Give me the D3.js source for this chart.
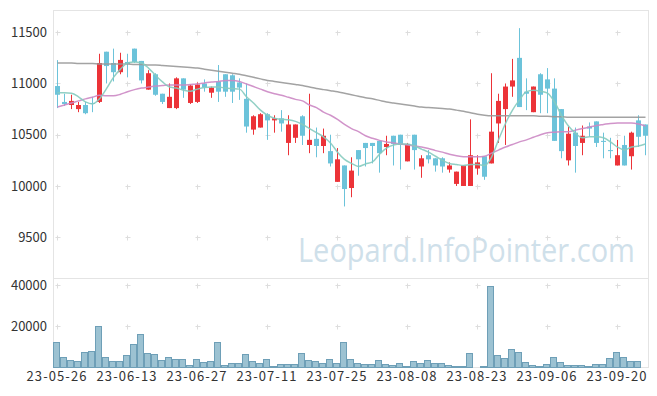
<!DOCTYPE html>
<html>
<head>
<meta charset="utf-8">
<script src="https://cdn.jsdelivr.net/npm/d3@7"></script>
<style>
  body { margin: 0; background: #fff; }
  text { font-family: "Noto Sans CJK KR", "Noto Sans", sans-serif; }
</style>
</head>
<body>
<svg id="chart" width="657" height="396"></svg>
<script>
// x axis labels, one every 10 trading days
const tickLabels = ['23-05-26', '23-06-13', '23-06-27', '23-07-11', '23-07-25',
                    '23-08-08', '23-08-23', '23-09-06', '23-09-20'];

const opens = [10975, 10820, 10790, 10750, 10790, 10810, 10820, 11310, 11200, 11110,
               11210, 11340, 11220, 10940, 11090, 10900, 10760, 10760, 11050, 10810,
               10820, 11000, 10910, 11020, 11090, 11080, 11010, 10850, 10550, 10570,
               10700, 10640, 10660, 10420, 10470, 10680, 10400, 10460, 10390, 10340,
               10040, 10200, 9980, 10350, 10420, 10420, 10440, 10380, 10490, 10500,
               10240, 10500, 10190, 10300, 10270, 10270, 10160, 10020, 10000, 10000,
               10170, 10290, 10220, 10610, 10750, 10970, 11250, 10920, 10720, 11090,
               11040, 10950, 10750, 10250, 10520, 10420, 10580, 10630, 10440, 10350,
               10200, 10400, 10290, 10640, 10600];
const highs = [11228, 10900, 10890, 10820, 10820, 10870, 11290, 11310, 11340, 11300,
               11290, 11340, 11220, 11130, 11100, 10900, 11000, 11060, 11050, 10990,
               11010, 11040, 10970, 11180, 11090, 11090, 11050, 11000, 10690, 10710,
               10710, 10690, 10740, 10690, 10600, 10690, 10900, 10570, 10560, 10500,
               10370, 10200, 10280, 10350, 10420, 10420, 10440, 10490, 10490, 10500,
               10420, 10500, 10300, 10350, 10270, 10280, 10230, 10140, 10200, 10650,
               10300, 10290, 11100, 10900, 11000, 11240, 11540, 11050, 10970, 11100,
               11150, 11050, 10750, 10580, 10570, 10590, 10620, 10630, 10520, 10470,
               10450, 10490, 10530, 10690, 10600];
const lows = [10760, 10780, 10750, 10720, 10700, 10720, 10810, 11000, 11020, 11090,
              11060, 11200, 11000, 10940, 10880, 10800, 10760, 10750, 10860, 10800,
              10810, 10920, 10860, 10820, 10870, 10810, 10840, 10520, 10500, 10570,
              10450, 10520, 10530, 10300, 10420, 10400, 10320, 10280, 10320, 10190,
              10040, 9800, 9890, 10100, 10190, 10220, 10130, 10300, 10200, 10160,
              10240, 10160, 10080, 10220, 10140, 10130, 10130, 10000, 10000, 10000,
              10110, 10060, 10220, 10420, 10400, 10870, 10770, 10740, 10720, 10710,
              10710, 10440, 10270, 10200, 10130, 10300, 10480, 10380, 10270, 10270,
              10200, 10200, 10160, 10380, 10300];
const closes = [10890, 10800, 10830, 10790, 10710, 10800, 11200, 11170, 11110, 11230,
                11190, 11210, 11030, 11100, 10890, 10820, 10870, 11050, 10940, 10980,
                10990, 10960, 10960, 10920, 10920, 10920, 10960, 10580, 10680, 10700,
                10640, 10660, 10610, 10600, 10600, 10490, 10450, 10390, 10490, 10220,
                10260, 9970, 10150, 10260, 10370, 10390, 10320, 10410, 10410, 10400,
                10410, 10350, 10270, 10260, 10200, 10190, 10200, 10140, 10200, 10300,
                10230, 10090, 10530, 10830, 10970, 11030, 10770, 10900, 10970, 10890,
                10950, 10440, 10340, 10510, 10390, 10490, 10560, 10420, 10430, 10340,
                10300, 10200, 10520, 10480, 10490];
const volumes = [12200, 5000, 3400, 2900, 7300, 7800, 19900, 4900, 2900, 2900,
                 5800, 11200, 16200, 6800, 6300, 3400, 4900, 3900, 3900, 1000,
                 3900, 2400, 2900, 12200, 1000, 1900, 1900, 6300, 2900, 1900,
                 3900, 500, 1500, 1500, 1500, 6800, 3400, 2900, 1900, 3900,
                 1900, 12200, 3900, 1900, 1500, 1500, 3400, 1500, 1000, 1900,
                 500, 2900, 1900, 3400, 1900, 1900, 1000, 500, 500, 6800,
                 0, 500, 39500, 6000, 4400, 8700, 7300, 2400, 1000, 500,
                 1500, 4900, 2400, 1000, 1000, 1000, 500, 1500, 1500, 4400,
                 7300, 4900, 2900, 2900, 0];

// moving averages
const ma5 = [10910, 10910, 10905, 10870, 10820, 10800, 10850, 10950, 11060, 11140,
             11200, 11210, 11200, 11150, 11080, 11015, 10965, 10955, 10935, 10925,
             10945, 10960, 10965, 10965, 10955, 10950, 10945, 10870, 10810, 10740,
             10690, 10660, 10650, 10645, 10630, 10600, 10560, 10520, 10480, 10420,
             10330, 10260, 10220, 10190, 10215, 10235, 10310, 10370, 10400, 10410,
             10410, 10390, 10360, 10330, 10290, 10250, 10220, 10210, 10200, 10210,
             10210, 10200, 10280, 10450, 10610, 10740, 10840, 10920, 10935, 10925,
             10905, 10820, 10690, 10585, 10515, 10470, 10480, 10480, 10470, 10430,
             10380, 10350, 10380, 10390, 10410];
const ma20 = [10770, 10790, 10810, 10830, 10850, 10865, 10885, 10880, 10880, 10895,
              10920, 10940, 10955, 10965, 10975, 10980, 10985, 10985, 10985, 10990,
              10995, 11005, 11015, 11020, 11030, 11030, 11020, 10995, 10970, 10945,
              10920, 10900, 10885, 10865, 10845, 10830, 10790, 10765, 10720, 10690,
              10650, 10600, 10560, 10530, 10490, 10465, 10445, 10430, 10420, 10410,
              10400, 10390, 10380, 10365, 10345, 10330, 10310, 10295, 10285, 10285,
              10285, 10290, 10320, 10350, 10380, 10405, 10430, 10450, 10475, 10500,
              10520, 10525, 10530, 10530, 10545, 10560, 10575, 10590, 10600, 10610,
              10615, 10615, 10615, 10605, 10585];
const ma60 = [11200, 11200, 11200, 11195, 11195, 11195, 11190, 11190, 11190, 11190,
              11190, 11185, 11185, 11180, 11180, 11175, 11170, 11165, 11160, 11155,
              11150, 11140, 11130, 11120, 11110, 11100, 11090, 11075, 11060, 11045,
              11030, 11020, 11010, 11000, 10990, 10980, 10965, 10950, 10940, 10930,
              10920, 10905, 10890, 10875, 10860, 10850, 10835, 10820, 10810, 10800,
              10790, 10780, 10770, 10765, 10760, 10755, 10750, 10740, 10730, 10715,
              10700, 10690, 10685, 10685, 10685, 10685, 10685, 10685, 10685, 10680,
              10680, 10675, 10675, 10670, 10670, 10670, 10670, 10670, 10670, 10670,
              10670, 10670, 10670, 10670, 10670];

const priceTicks = [9500, 10000, 10500, 11000, 11500];
const volTicks = [20000, 40000];

const svg = d3.select('#chart');
const padL = 53, padR = 648, padT = 10, paneSplit = 278, padB = 367;

const idx = d3.range(opens.length);
const x = d3.scaleBand().domain(idx).range([padL, padR]);
const yP = d3.scaleLinear().domain([9102, 11717]).range([paneSplit, padT]);
const yV = d3.scaleLinear().domain([0, 43400]).range([padB, paneSplit]);
const cx = i => Math.round(x(i) + x.bandwidth() / 2) + 0.5;

const upColor = '#ec3338', downColor = '#6cc3da';

// watermark (squeezed horizontally to the original's narrow face)
svg.append('text')
  .attr('transform', 'translate(298,262) scale(0.878,1)')
  .style('font-family', '"Open Sans", "Noto Sans", sans-serif')
  .style('font-size', '33px')
  .attr('fill', '#cfe0ea')
  .text('Leopard.InfoPointer.com');

// frame
const frame = svg.append('g').attr('stroke', '#e4e4e4').attr('fill', 'none');
frame.append('rect').attr('x', padL + 0.5).attr('y', padT + 0.5)
  .attr('width', padR - padL).attr('height', padB - padT);
frame.append('line').attr('x1', padL).attr('x2', padR)
  .attr('y1', paneSplit + 0.5).attr('y2', paneSplit + 0.5);

// grid crosses
const xTickIdx = d3.range(0, opens.length, 10);
const crossYs = priceTicks.map(yP).concat(volTicks.map(yV));
const cross = svg.append('g').attr('stroke', '#dddddd');
xTickIdx.forEach(i => {
  crossYs.forEach(yy => {
    const px = cx(i), py = Math.round(yy) + 0.5;
    cross.append('line').attr('x1', px - 2).attr('x2', px + 3).attr('y1', py).attr('y2', py);
    cross.append('line').attr('x1', px).attr('x2', px).attr('y1', py - 2).attr('y2', py + 3);
  });
});

// volume bars
svg.append('g').selectAll('rect')
  .data(idx.filter(i => volumes[i] > 0))
  .join('rect')
  .attr('x', i => Math.round(x(i)) + 0.5)
  .attr('y', i => Math.round(yV(volumes[i])) + 0.5)
  .attr('width', Math.round(x.bandwidth()) - 1)
  .attr('height', i => Math.max(0, Math.round(padB - yV(volumes[i]))))
  .attr('fill', '#9cc2d2')
  .attr('stroke', '#6e9fb7')
  .attr('stroke-width', 1);

// candles
const candles = svg.append('g').selectAll('g').data(idx).join('g')
  .attr('stroke', i => closes[i] >= opens[i] ? upColor : downColor)
  .attr('fill', i => closes[i] >= opens[i] ? upColor : downColor);
candles.append('line')
  .attr('x1', cx).attr('x2', cx)
  .attr('y1', i => yP(highs[i])).attr('y2', i => yP(lows[i]));
candles.append('rect')
  .attr('stroke', 'none')
  .attr('x', i => cx(i) - 2.5)
  .attr('width', 5)
  .attr('y', i => yP(Math.max(opens[i], closes[i])))
  .attr('height', i => Math.max(1, yP(Math.min(opens[i], closes[i])) - yP(Math.max(opens[i], closes[i]))));

// moving average lines
const maLine = d3.line().x((d, i) => cx(i)).y(d => yP(d)).curve(d3.curveMonotoneX);
[[ma60, '#999999'], [ma20, '#cc88c4'], [ma5, '#86cbbf']].forEach(([s, c]) => {
  svg.append('path').attr('d', maLine(s))
    .attr('fill', 'none').attr('stroke', c).attr('stroke-width', 1.5)
    .attr('stroke-opacity', 0.9);
});

// axes
const yAxisP = svg.append('g').attr('transform', `translate(${padL},0)`)
  .call(d3.axisLeft(yP).tickValues(priceTicks).tickFormat(d3.format('d'))
        .tickSize(0).tickPadding(6));
const yAxisV = svg.append('g').attr('transform', `translate(${padL},0)`)
  .call(d3.axisLeft(yV).tickValues(volTicks).tickFormat(d3.format('d'))
        .tickSize(0).tickPadding(6));
const xAxis = svg.append('g').attr('transform', `translate(0,${padB})`)
  .call(d3.axisBottom(x).tickValues(xTickIdx).tickFormat(i => tickLabels[i / 10])
        .tickSize(0).tickPadding(5));

[yAxisP, yAxisV, xAxis].forEach(g => {
  g.select('.domain').remove();
  g.selectAll('text').style('font-size', '13px').attr('fill', '#333');
});
xAxis.selectAll('text').attr('textLength', 60).attr('lengthAdjust', 'spacing');
</script>
</body>
</html>
